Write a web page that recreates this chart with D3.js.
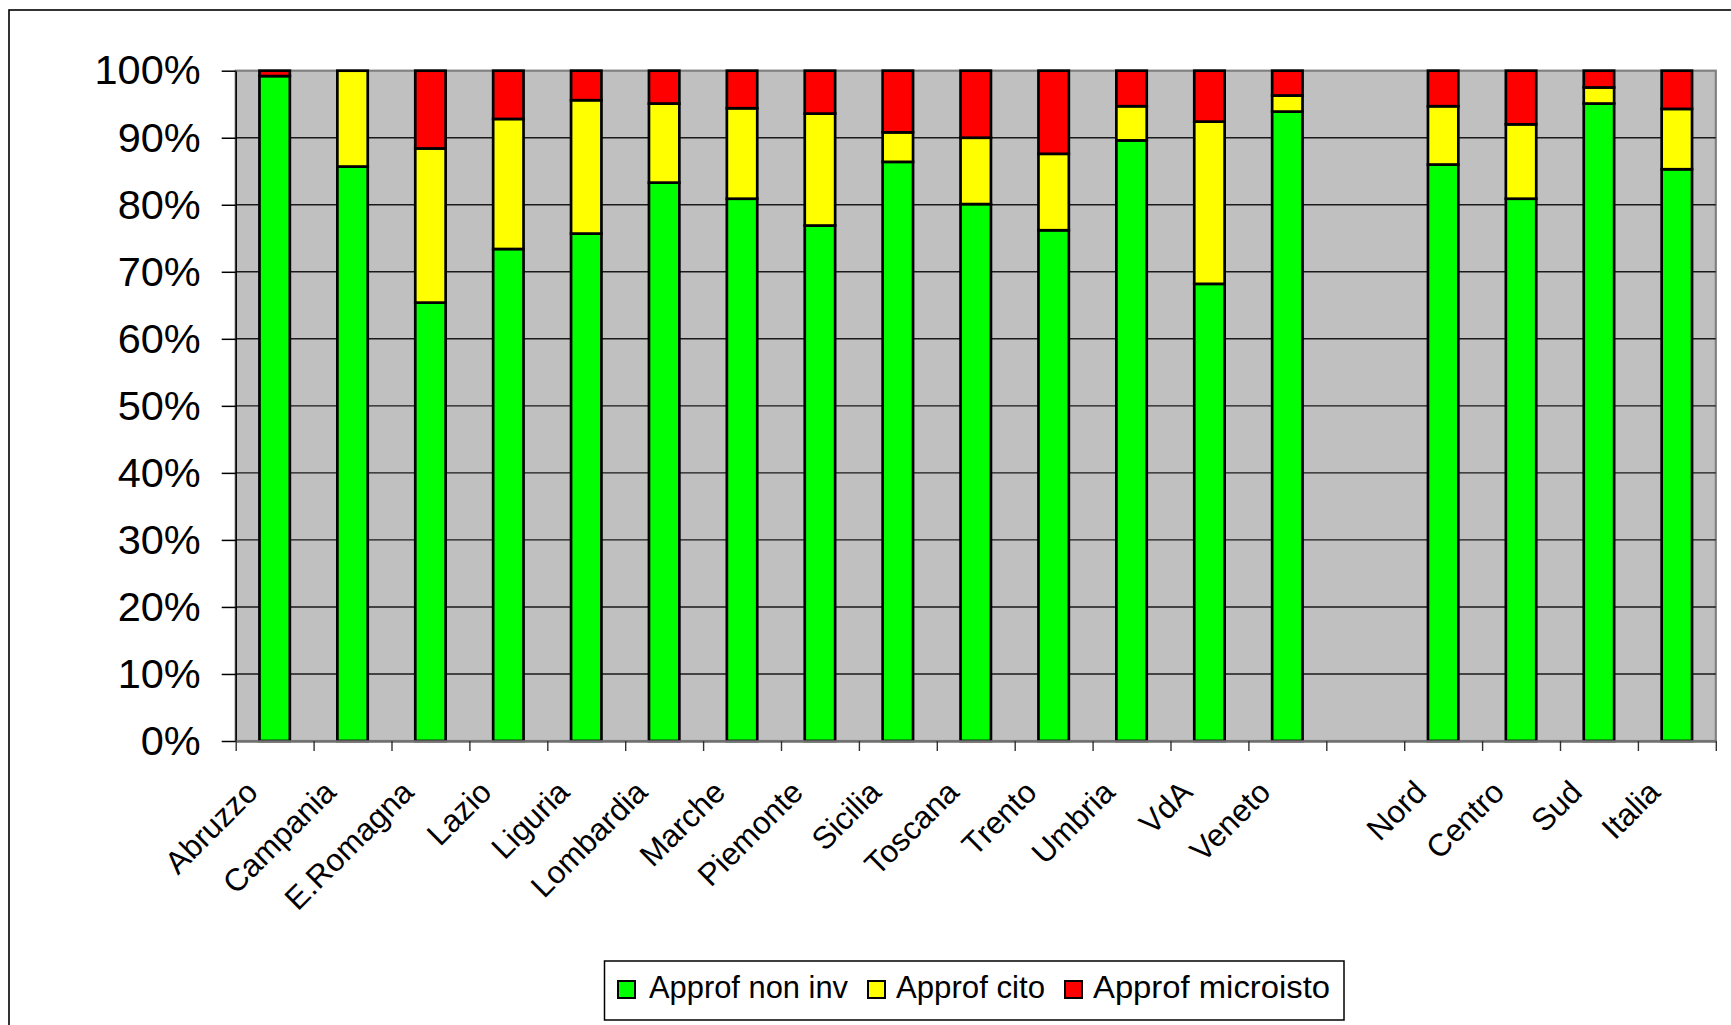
<!DOCTYPE html>
<html><head><meta charset="utf-8">
<script src="https://cdn.jsdelivr.net/npm/d3@7"></script>
<style>
body{margin:0;background:#fff;overflow:hidden}
svg{display:block;font-family:"Liberation Sans",Arial,sans-serif}
</style>
</head><body>
<svg id="c" width="1731" height="1025"></svg>
<script>
// ---- data ----
const categories = ["Abruzzo","Campania","E.Romagna","Lazio","Liguria","Lombardia","Marche","Piemonte","Sicilia","Toscana","Trento","Umbria","VdA","Veneto","","Nord","Centro","Sud","Italia"];
const seriesNames = ["Approf non inv","Approf cito","Approf microisto"];
const nonInv = [99.2,85.7,65.4,73.4,75.7,83.3,80.9,76.9,86.4,80.1,76.2,89.6,68.2,93.9,0,86.0,80.9,95.1,85.3];
const cito   = [0.0,14.3,23.0,19.4,19.9,11.8,13.5,16.7,4.4,9.9,11.4,5.1,24.2,2.4,0,8.7,11.1,2.4,9.0];
const micro  = [0.8,0.0,11.6,7.2,4.4,4.9,5.6,6.4,9.2,10.0,12.4,5.3,7.6,3.7,0,5.3,8.0,2.5,5.7];
const yTicks = [0,0.1,0.2,0.3,0.4,0.5,0.6,0.7,0.8,0.9,1.0];
const colors = ["#00FF00","#FFFF00","#FF0000"];

// ---- layout ----
const W = 1731, H = 1025;
const plot = {left:235.7, right:1715.8, top:70.7, bottom:741};
const svg = d3.select("#c");

// outer chart frame
svg.append("rect").attr("x",9).attr("y",10).attr("width",W+60).attr("height",H+60)
  .attr("fill","#fff").attr("stroke","#000").attr("stroke-width",1.6);

const n = categories.length;
const x = d3.scaleBand().domain(d3.range(n)).range([plot.left, plot.right])
  .paddingInner(0.61).paddingOuter(0.305);
const xl = d3.scaleLinear().domain([0,n]).range([plot.left, plot.right]);
const y = d3.scaleLinear().domain([0,1]).range([plot.bottom, plot.top]);

// plot background
svg.append("rect").attr("x",plot.left).attr("y",plot.top)
  .attr("width",plot.right-plot.left).attr("height",plot.bottom-plot.top)
  .attr("fill","#C0C0C0").attr("stroke","#808080").attr("stroke-width",2.2);

// gridlines
svg.append("g").selectAll("line").data(yTicks.filter(t=>t>0 && t<1)).join("line")
  .attr("x1",plot.left).attr("x2",plot.right)
  .attr("y1",d=>y(d)).attr("y2",d=>y(d))
  .attr("stroke","#1a1a1a").attr("stroke-width",1.4);

// bars
const rows = categories.map((c,i)=>({i, nonInv:nonInv[i]/100, cito:cito[i]/100, micro:micro[i]/100}));
const stack = d3.stack().keys(["nonInv","cito","micro"])(rows);
svg.append("g").selectAll("g").data(stack).join("g")
  .attr("fill",(d,k)=>colors[k])
  .selectAll("rect").data(d=>d.filter(s=>s[1]-s[0]>0)).join("rect")
  .attr("x",d=>x(d.data.i)).attr("width",x.bandwidth())
  .attr("y",d=>y(d[1])).attr("height",d=>y(d[0])-y(d[1]))
  .attr("stroke","#000").attr("stroke-width",2.7);

// y axis
const gy = svg.append("g").attr("transform",`translate(${plot.left},0)`)
  .call(d3.axisLeft(y).tickValues(yTicks).tickFormat(d3.format(".0%")).tickSize(14).tickSizeOuter(0).tickPadding(21));
gy.select(".domain").attr("stroke","#000").attr("stroke-width",1.5);
gy.selectAll(".tick line").attr("stroke","#000").attr("stroke-width",1.5);
gy.selectAll(".tick text").attr("font-size",41.5).attr("fill","#000")
  .attr("font-family",'"Liberation Sans",Arial,sans-serif');

// x axis boundary ticks
const gx = svg.append("g").attr("transform",`translate(0,${plot.bottom})`)
  .call(d3.axisBottom(xl).tickValues(d3.range(n+1)).tickFormat("").tickSize(10).tickSizeOuter(0));
gx.select(".domain").attr("stroke","#707070").attr("stroke-width",2.4);
gx.selectAll(".tick line").attr("stroke","#333").attr("stroke-width",1.4);

// x category labels
const gl = svg.append("g").attr("transform",`translate(0,${plot.bottom})`)
  .call(d3.axisBottom(x).tickFormat(i=>categories[i]).tickSize(0));
gl.select(".domain").remove();
gl.selectAll(".tick text")
  .attr("font-size",31.5).attr("fill","#000")
  .attr("font-family",'"Liberation Sans",Arial,sans-serif')
  .attr("x",0).attr("y",0).attr("dy",0)
  .attr("text-anchor","end")
  .attr("transform","translate(-15,53) rotate(-45)");

// legend
const legSquareX = [618, 868, 1065];
const legTextX = [649, 896, 1093];
const legTextW = [199, 149, 237];
const leg = svg.append("g");
leg.append("rect").attr("x",604.5).attr("y",961).attr("width",739.5).attr("height",59)
  .attr("fill","#fff").attr("stroke","#000").attr("stroke-width",1.5);
seriesNames.forEach((name,k)=>{
  leg.append("rect").attr("x",legSquareX[k]).attr("y",981).attr("width",17).attr("height",17)
    .attr("fill",colors[k]).attr("stroke","#000").attr("stroke-width",2);
  leg.append("text").attr("x",legTextX[k]).attr("y",998)
    .attr("font-size",31.5).attr("fill","#000")
    .attr("textLength",legTextW[k]).attr("lengthAdjust","spacingAndGlyphs")
    .text(name);
});
</script>
</body></html>
